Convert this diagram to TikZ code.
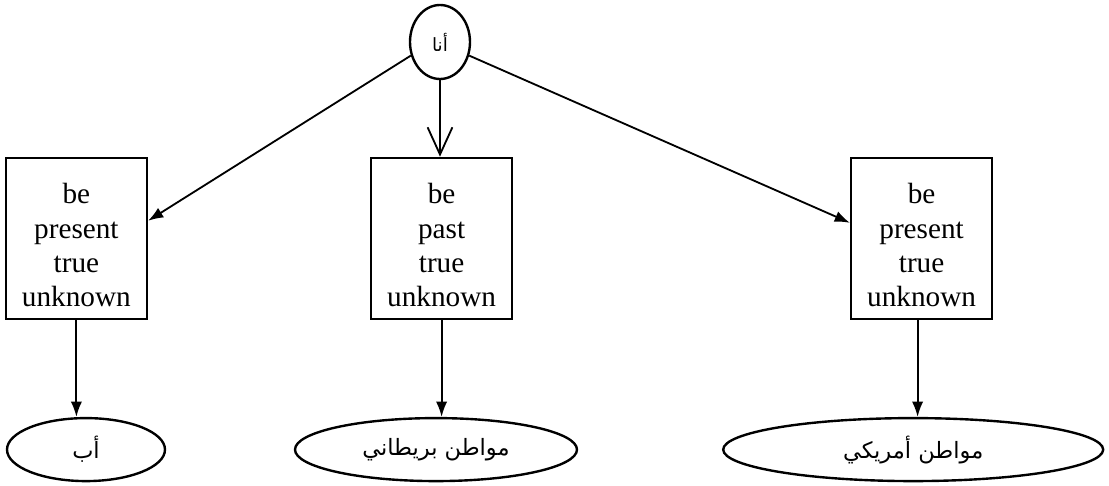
\documentclass[tikz,border=0pt]{standalone}
\usepackage{fontspec}
\setmainfont{Liberation Serif}
\newfontfamily\arabicfont[Script=Arabic]{DejaVu Sans}
\TeXXeTstate=1
\usetikzlibrary{arrows.meta,shapes.geometric}

% four feature lines, set a little below the box centre
\newcommand{\featlines}[4]{\raisebox{-0.43cm}[0pt][0pt]{\begin{tabular}{@{}c@{}}#1\\#2\\#3\\#4\end{tabular}}}

\begin{document}
\begin{tikzpicture}[x=1cm, y=1cm,
  featbox/.style={draw=black, line width=1.7pt, minimum width=3.525cm, minimum height=4.025cm,
    inner sep=0pt, font=\fontsize{20.8}{24.3}\selectfont},
  wordell/.style={draw=black, ellipse, line width=1.7pt, inner sep=0pt,
    font=\arabicfont\fontsize{16}{18}\selectfont},
  link/.style={line width=1.3pt, -{Latex[length=0.38cm, width=0.28cm]}}]

  \useasboundingbox (0,0) rectangle (27.725,12.15);

  % top node
  \node[wordell, minimum width=1.5cm, minimum height=1.85cm,
    font=\arabicfont\fontsize{13}{15}\selectfont] (ana) at (11.0,11.1) {\beginR أنا\endR};

  % feature boxes
  \node[featbox] (lbox) at (1.91,6.19) {\featlines{be}{present}{true}{unknown}};
  \node[featbox] (mbox) at (11.04,6.19) {\featlines{be}{past}{true}{unknown}};
  \node[featbox] (rbox) at (23.04,6.19) {\featlines{be}{present}{true}{unknown}};

  % bottom nodes
  \node[wordell, minimum width=3.95cm, minimum height=1.575cm] (ab) at (2.15,0.91) {\beginR أب\endR};
  \node[wordell, minimum width=7.05cm, minimum height=1.575cm] (brit) at (10.9,0.91) {\beginR مواطن بريطاني\endR};
  \node[wordell, minimum width=9.5cm, minimum height=1.575cm] (amer) at (22.83,0.91) {\beginR مواطن أمريكي\endR};

  % arrows from top node
  \draw[link] (ana.205) -- ([yshift=0.44cm]lbox.east);
  \draw[line width=1.3pt, -{Straight Barb[length=0.68cm, width=0.62cm]}] (ana.south) -- (ana.south |- mbox.north);
  \draw[link] (ana.-25) -- ([yshift=0.39cm]rbox.west);

  % arrows to bottom nodes
  \draw[link] (lbox.south) -- (lbox.south |- ab.north);
  \draw[link] (mbox.south) -- (mbox.south |- brit.north);
  \draw[link] ([xshift=-0.1cm]rbox.south) -- ([xshift=-0.1cm]rbox.south |- amer.north);

\end{tikzpicture}
\end{document}
